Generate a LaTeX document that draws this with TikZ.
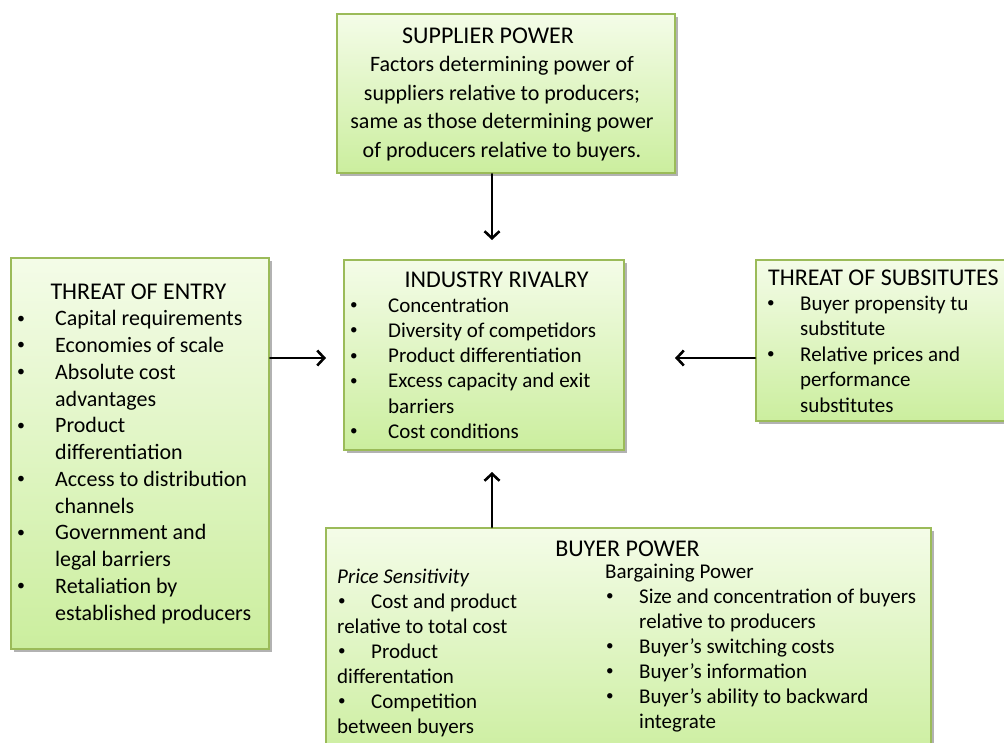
\documentclass[tikz,border=0pt]{standalone}
\usepackage{fontspec}
\setmainfont{Carlito}
\usetikzlibrary{arrows.meta,shadows}
\definecolor{boxline}{HTML}{9BBB59}
\definecolor{boxtop}{HTML}{F4FCE8}
\definecolor{boxbot}{HTML}{CBEE9E}
% small bullet in a fixed-width slot, and a matching indent for wrapped lines
\newcommand\bitem[1]{\makebox[#1][l]{\hspace{1pt}\raisebox{0.12em}{\scalebox{0.72}{\textbullet}}}}
\newcommand\cont[1]{\hspace*{#1}}
\tikzset{
  panel/.style={draw=boxline, line width=2.2pt, top color=boxtop, bottom color=boxbot,
    anchor=north west, inner sep=0pt,
    drop shadow={shadow xshift=3pt, shadow yshift=-3pt, opacity=0.3, fill=black}},
  txt/.style={inner sep=0pt, anchor=base west},
  ttl/.style={inner sep=0pt, anchor=base},
  head/.style={font=\fontsize{24}{28}\selectfont},
  big/.style={font=\fontsize{22}{26.75}\selectfont},
  small/.style={font=\fontsize{21}{25.2}\selectfont},
  force/.style={line width=2.6pt, line cap=round,
    -{Straight Barb[length=7pt,width=15pt,line width=2.6pt]}}
}
\begin{document}
\begin{tikzpicture}[x=1pt,y=-1pt]
\useasboundingbox (0,0) rectangle (1004,742);

% panels
\node[panel, minimum width=338pt, minimum height=159pt] (sup) at (336,13) {};
\node[panel, minimum width=280pt, minimum height=190pt] (ind) at (343,259) {};
\node[panel, minimum width=258pt, minimum height=391pt] (entry) at (10,257) {};
\node[panel, minimum width=262pt, minimum height=161pt] (subs) at (755,259) {};
\node[panel, minimum width=605pt, minimum height=235pt] (buy) at (325,527) {};

% supplier power
\node[ttl, head] (supttl) at (488,43) {SUPPLIER POWER};
\node[ttl, font=\fontsize{22}{28.5}\selectfont] (suptxt) at (502,71.5)
  {\parbox[t]{360pt}{\centering
   Factors determining power of\\
   suppliers relative to producers;\\
   same as those determining power\\
   of producers relative to buyers.}};

% industry rivalry
\node[ttl, head] (indttl) at (496.5,287) {INDUSTRY RIVALRY};
\node[txt, small] (indtxt) at (349,312.2)
  {\parbox[t]{300pt}{\raggedright
   \bitem{39pt}Concentration\\
   \bitem{39pt}Diversity of competidors\\
   \bitem{39pt}Product differentiation\\
   \bitem{39pt}Excess capacity and exit\\
   \cont{39pt}barriers\\
   \bitem{39pt}Cost conditions}};

% threat of entry
\node[ttl, head] (entttl) at (138.5,299) {THREAT OF ENTRY};
\node[txt, big] (enttxt) at (16,325.75)
  {\parbox[t]{300pt}{\raggedright
   \bitem{39pt}Capital requirements\\
   \bitem{39pt}Economies of scale\\
   \bitem{39pt}Absolute cost\\
   \cont{39pt}advantages\\
   \bitem{39pt}Product\\
   \cont{39pt}differentiation\\
   \bitem{39pt}Access to distribution\\
   \cont{39pt}channels\\
   \bitem{39pt}Government and\\
   \cont{39pt}legal barriers\\
   \bitem{39pt}Retaliation by\\
   \cont{39pt}established producers}};

% threat of substitutes
\node[txt, head] (subttl) at (768,285) {THREAT OF SUBSITUTES};
\node[txt, font=\fontsize{21}{25.4}\selectfont] (subtxt) at (766,310.4)
  {\parbox[t]{300pt}{\raggedright
   \bitem{34pt}Buyer propensity tu\\
   \cont{34pt}substitute\\
   \bitem{34pt}Relative prices and\\
   \cont{34pt}performance\\
   \cont{34pt}substitutes}};

% buyer power
\node[ttl, head] (buyttl) at (627.5,556) {BUYER POWER};
\node[txt, font=\fontsize{21}{25}\selectfont] (buyleft) at (337,583)
  {\parbox[t]{300pt}{\raggedright
   \textit{Price Sensitivity}\\
   \bitem{34pt}Cost and product\\
   relative to total cost\\
   \bitem{34pt}Product\\
   differentation\\
   \bitem{34pt}Competition\\
   between buyers}};
\node[txt, font=\fontsize{21}{25}\selectfont] (buyright) at (605,578)
  {\parbox[t]{400pt}{\raggedright
   Bargaining Power\\
   \bitem{34pt}Size and concentration of buyers\\
   \cont{34pt}relative to producers\\
   \bitem{34pt}Buyer’s switching costs\\
   \bitem{34pt}Buyer’s information\\
   \bitem{34pt}Buyer’s ability to backward\\
   \cont{34pt}integrate}};

% arrow heads stop short of the central panel
\coordinate (tipN) at (492,240);
\coordinate (tipW) at (326,358);
\coordinate (tipE) at (675,358);
\coordinate (tipS) at (492,472);

\draw[force] (sup.south -| tipN) -- (tipN);
\draw[force] (entry.east |- tipW) -- (tipW);
\draw[force] (subs.west |- tipE) -- (tipE);
\draw[force] (buy.north -| tipS) -- (tipS);
\end{tikzpicture}
\end{document}
